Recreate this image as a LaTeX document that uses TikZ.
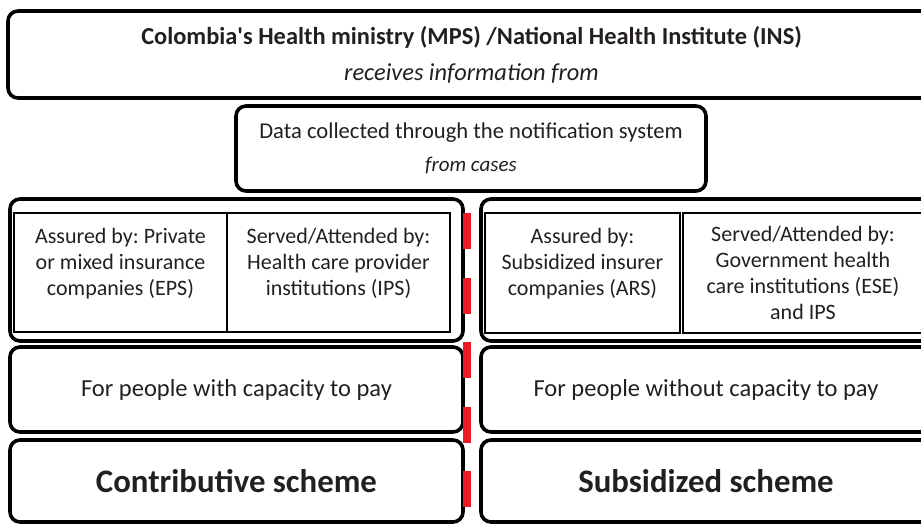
\documentclass[tikz,border=0pt]{standalone}
\usepackage{fontspec}
\setmainfont{Carlito}
\usepackage{tikz}
\usetikzlibrary{positioning}
\frenchspacing

\definecolor{inkgray}{HTML}{231F20}
\definecolor{splitred}{HTML}{ED1C24}

\tikzset{
	panel/.style={draw, rounded corners=10pt, line width=3.6pt, align=center, text=inkgray},
	cell/.style={draw, line width=2.8pt, align=center, text=inkgray},
	body/.style={font=\fontsize{22}{26}\selectfont},
	lead/.style={font=\fontsize{24.5}{30}\selectfont},
	scheme/.style={font=\fontsize{32.8}{38}\selectfont\bfseries}
}

\begin{document}
\begin{tikzpicture}[x=1pt, y=-1pt]
			\useasboundingbox (0,0) rectangle (921,525);

			% Top level
			\node (ministry) [panel, font=\fontsize{24.4}{36}\selectfont, minimum width=927pt, minimum height=87pt] at (471.5,54.5)
				{\textbf{Colombia\textquotesingle s Health ministry (MPS) /National Health Institute (INS)}\\
				 \textit{receives information from}};
			\node (data) [panel, font=\fontsize{22.6}{33}\selectfont, minimum width=470pt, minimum height=85pt] at (471,148.5)
				{Data collected through the notification system\\
				 {\fontsize{21}{33}\selectfont\itshape from cases}};

			% Contributive side
			\node (contribGroup) [panel, minimum width=453pt, minimum height=142pt] at (236.5,270) {};
			\node (eps) [cell, body, minimum width=213pt, minimum height=119pt] at (120.5,272.5)
				{Assured by: Private\\or mixed insurance\\companies (EPS)\\[-4pt]~};
			\node (ips) [cell, body, minimum width=223pt, minimum height=119pt] at (338.5,272.5)
				{Served/Attended by:\\Health care provider\\institutions (IPS)\\[-4pt]~};
			\node (capPay) [panel, lead, minimum width=453pt, minimum height=85pt] at (236.5,389.5)
				{For people with capacity to pay};
			\node (contrib) [panel, scheme, minimum width=453pt, minimum height=82pt] at (236.5,481)
				{Contributive scheme};

			% Subsidized side
			\node (subsGroup) [panel, minimum width=454pt, minimum height=142pt] at (708,270) {};
			\node (ars) [cell, body, minimum width=195pt, minimum height=120pt] at (582.5,273)
				{Assured by:\\Subsidized insurer\\companies (ARS)\\[-4pt]~};
			\node (ese) [cell, body, minimum width=240pt, minimum height=120pt] at (803,273)
				{Served/Attended by:\\Government health\\care institutions (ESE)\\and IPS};
			\node (noCapPay) [panel, lead, minimum width=450pt, minimum height=85pt] at (706,389.5)
				{For people without capacity to pay};
			\node (subsid) [panel, scheme, minimum width=450pt, minimum height=82pt] at (706,481)
				{Subsidized scheme};

			% Split between the two schemes
			\coordinate (splitTop) at (467,213);
			\coordinate (splitBot) at (467,525);
			\draw [splitred, line width=8pt, dash pattern=on 36pt off 28.5pt] (splitTop) -- (splitBot);

		\end{tikzpicture}
\end{document}
